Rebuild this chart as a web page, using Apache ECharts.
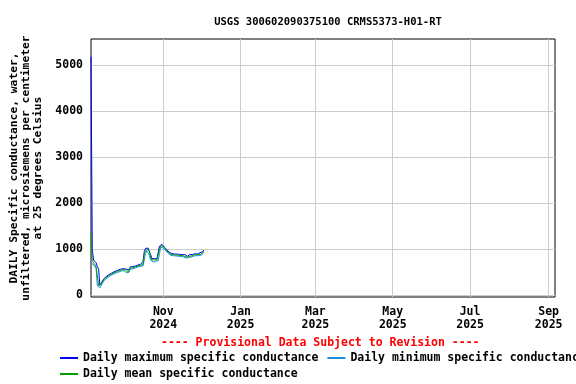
<!DOCTYPE html>
<html><head><meta charset="utf-8">
<script src="https://cdn.jsdelivr.net/npm/echarts@6/dist/echarts.min.js"></script>
<style>html,body{margin:0;padding:0;background:#fff}#c{width:576px;height:384px}</style>
</head><body><div id="c"></div>
<script>
const startDate = [2024, 8, 5];
const dailyMax = [5180,1000,760,720,700,620,560,210,250,300,350,380,400,420,440,460,470,485,500,515,525,535,545,555,565,575,570,565,560,530,545,610,620,615,620,630,640,650,660,665,655,720,940,1010,1030,1020,980,880,790,770,790,785,785,820,1060,1100,1100,1075,1035,1005,980,945,920,905,900,895,890,890,888,882,880,880,875,872,878,850,840,858,878,872,880,890,895,900,888,905,918,912,940,975];
const dailyMin = [690,680,660,650,580,200,160,150,200,250,300,335,355,375,395,415,428,440,455,470,480,490,500,510,520,530,528,522,480,470,495,560,575,568,578,588,598,608,618,625,610,630,760,900,960,960,860,760,730,715,740,735,735,745,900,1040,1055,1020,985,960,935,900,875,862,858,852,848,848,845,840,838,838,830,828,830,800,792,812,832,825,835,845,848,855,838,855,870,865,890,925];
const dailyMean = [1340,750,700,690,620,580,200,175,230,280,330,360,380,400,420,440,450,465,480,495,505,515,525,535,545,555,550,545,540,490,520,585,600,590,600,610,620,630,640,645,630,660,890,960,1000,995,940,820,760,740,765,760,760,780,1000,1075,1080,1050,1010,985,960,925,900,885,880,875,870,870,868,862,860,860,852,850,855,825,815,835,855,848,858,868,870,878,862,880,895,888,915,950];
const yTicks = [0,1000,2000,3000,4000,5000];
const xTickMonths = [[2024,10],[2025,0],[2025,2],[2025,4],[2025,6],[2025,8]];
const monthNames = ['Jan','Feb','Mar','Apr','May','Jun','Jul','Aug','Sep','Oct','Nov','Dec'];

const t0 = new Date(startDate[0], startDate[1], startDate[2]).getTime();
const dates = dailyMean.map((_, i) => new Date(startDate[0], startDate[1], startDate[2] + i).getTime());
const xTicks = xTickMonths.map(m => new Date(m[0], m[1], 1).getTime());
const FONT = 'DejaVu Sans Mono';

const chart = echarts.init(document.getElementById('c'), null, {renderer: 'canvas'});
chart.setOption({
  animation: false,
  backgroundColor: '#fff',
  title: {
    text: 'USGS 300602090375100 CRMS5373-H01-RT',
    left: 323, top: 12, textAlign: 'center',
    textStyle: {fontFamily: FONT, fontWeight: 'bold', fontSize: 10.5, color: '#000'}
  },
  grid: {left: 91, right: 21, top: 39, bottom: 87, outerBoundsMode: 'none', containLabel: false, show: true, borderColor: '#000', borderWidth: 1, backgroundColor: 'transparent'},
  xAxis: {
    type: 'value',
    min: t0,
    max: new Date(2025, 8, 6).getTime(),
    axisLine: {show: false},
    axisTick: {show: false, customValues: xTicks},
    splitLine: {show: true, lineStyle: {color: '#cccccc', width: 1}},
    axisLabel: {
      customValues: xTicks,
      margin: 9,
      fontFamily: FONT, fontWeight: 'bold', fontSize: 11.5, color: '#000', lineHeight: 13,
      formatter: v => { const d = new Date(v); return monthNames[d.getMonth()] + '\n' + d.getFullYear(); }
    }
  },
  yAxis: {
    type: 'value',
    min: -45, max: 5565,
    axisLine: {show: false},
    axisTick: {show: false, customValues: yTicks},
    splitLine: {show: true, lineStyle: {color: '#cccccc', width: 1}},
    axisLabel: {customValues: yTicks, margin: 8, fontFamily: FONT, fontWeight: 'bold', fontSize: 11.5, color: '#000', formatter: v => String(v)},
    name: 'DAILY Specific conductance, water,\nunfiltered, microsiemens per centimeter\nat 25 degrees Celsius',
    nameLocation: 'middle', nameRotate: 90, nameGap: 41,
    nameTextStyle: {fontFamily: FONT, fontWeight: 'bold', fontSize: 11.3, color: '#000', lineHeight: 12, align: 'center'}
  },
  legend: [
    {data: ['Daily maximum specific conductance', 'Daily minimum specific conductance'],
     left: 60, top: 352, width: 900, itemWidth: 18, itemHeight: 2, itemGap: 9, padding: 0,
     icon: 'rect', textStyle: {fontFamily: FONT, fontWeight: 'bold', fontSize: 11.5, color: '#000'}},
    {data: ['Daily mean specific conductance'],
     left: 60, top: 368, itemWidth: 18, itemHeight: 2, padding: 0,
     icon: 'rect', textStyle: {fontFamily: FONT, fontWeight: 'bold', fontSize: 11.5, color: '#000'}}
  ],
  graphic: [{
    type: 'text', left: 161, top: 337,
    style: {text: '---- Provisional Data Subject to Revision ----', fill: '#ff0000', font: 'bold 11.5px "DejaVu Sans Mono"'}
  }],
  series: [
    {name: 'Daily maximum specific conductance', type: 'line', data: dates.map((d, i) => [d, dailyMax[i]]), showSymbol: false, lineStyle: {color: '#0000ff', width: 1}, itemStyle: {color: '#0000ff'}},
    {name: 'Daily minimum specific conductance', type: 'line', data: dates.map((d, i) => [d, dailyMin[i]]), showSymbol: false, lineStyle: {color: '#1a8fd8', width: 1}, itemStyle: {color: '#1a8fd8'}},
    {name: 'Daily mean specific conductance', type: 'line', data: dates.map((d, i) => [d, dailyMean[i]]), showSymbol: false, lineStyle: {color: '#00a000', width: 1}, itemStyle: {color: '#00a000'}}
  ]
});
</script></body></html>
